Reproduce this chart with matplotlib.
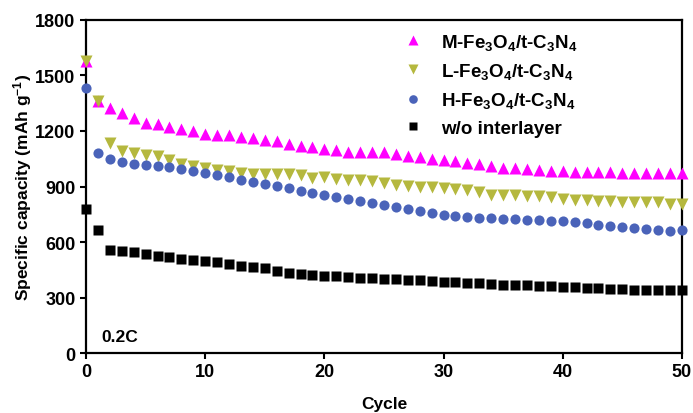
import matplotlib
matplotlib.use("Agg")
import matplotlib.pyplot as plt
import numpy as np

plt.rcParams['font.family'] = ['Liberation Sans', 'DejaVu Sans']
plt.rcParams['font.weight'] = 'bold'
plt.rcParams['mathtext.fontset'] = 'custom'
plt.rcParams['mathtext.rm'] = 'Liberation Sans:bold'
plt.rcParams['mathtext.bf'] = 'Liberation Sans:bold'
plt.rcParams['mathtext.default'] = 'bf'

cycles = list(range(51))

m_cap = [1580, 1360, 1324, 1295, 1268, 1245, 1236, 1222, 1211, 1198, 1184, 1178, 1177, 1166, 1160,
         1153, 1145, 1128, 1121, 1112, 1101, 1096, 1085, 1085, 1085, 1085, 1076, 1063, 1058, 1049,
         1045, 1036, 1029, 1021, 1012, 1002, 1002, 996, 989, 982, 985, 977, 977, 977, 977, 975,
         973, 974, 973, 973, 971]
l_cap = [1580, 1360, 1133, 1090, 1083, 1070, 1063, 1045, 1022, 1012, 1001, 989, 982, 973, 966,
         966, 968, 966, 960, 945, 951, 938, 937, 935, 930, 920, 908, 904, 899, 896, 890, 885, 879,
         872, 854, 854, 854, 850, 850, 841, 832, 827, 827, 823, 820, 814, 814, 814, 814, 805, 805]
h_cap = [1434, 1083, 1049, 1034, 1023, 1016, 1012, 1005, 996, 986, 975, 962, 949, 937, 926, 915,
         901, 890, 878, 867, 856, 845, 832, 822, 811, 802, 791, 778, 770, 758, 748, 739, 733, 730,
         728, 726, 723, 720, 717, 715, 712, 706, 701, 692, 685, 681, 676, 672, 667, 659, 663]
w_cap = [778, 665, 555, 551, 544, 537, 526, 517, 510, 504, 497, 490, 481, 472, 465, 458, 441, 434,
         429, 423, 416, 415, 411, 407, 404, 400, 398, 396, 393, 389, 385, 382, 380, 377, 371, 369,
         369, 368, 364, 360, 358, 355, 351, 350, 346, 344, 342, 342, 341, 341, 341]

labels = [r'M-Fe$_3$O$_4$/t-C$_3$N$_4$', r'L-Fe$_3$O$_4$/t-C$_3$N$_4$',
          r'H-Fe$_3$O$_4$/t-C$_3$N$_4$', 'w/o interlayer']

x_ticks = [0, 10, 20, 30, 40, 50]
y_ticks = [0, 300, 600, 900, 1200, 1500, 1800]

fig = plt.figure(figsize=(6.93, 4.14), dpi=100)
ax = fig.add_axes([0.1241, 0.1449, 0.8599, 0.8044])

ax.plot(cycles, m_cap, ls='none', marker='^', ms=8.5, color='#FF00FF', mec='none', label=labels[0], clip_on=False, zorder=3)
ax.plot(cycles, l_cap, ls='none', marker='v', ms=8.5, color='#B5B83E', mec='none', label=labels[1], clip_on=False, zorder=3)
ax.plot(cycles, h_cap, ls='none', marker='o', ms=7.3, color='#4A63B9', mec='none', label=labels[2], clip_on=False, zorder=3)
ax.plot(cycles, w_cap, ls='none', marker='s', ms=6.5, color='black', mec='none', label=labels[3], clip_on=False, zorder=3)

ax.set_xlim(0, 50)
ax.set_ylim(0, 1800)
ax.set_xticks(x_ticks)
ax.set_yticks(y_ticks)
ax.tick_params(axis='both', which='major', direction='out', length=4.5, width=1.5, labelsize=13, pad=3)
for lab in ax.get_xticklabels() + ax.get_yticklabels():
    lab.set_fontweight('bold')
for sp in ax.spines.values():
    sp.set_linewidth(1.6)

ax.set_xlabel('Cycle', fontsize=12.5, fontweight='bold', labelpad=11)
ax.set_ylabel(r'Specific capacity (mAh g$^{-1}$)', fontsize=12.5, fontweight='bold', labelpad=1)

ax.text(0.025, 0.05, '0.2C', transform=ax.transAxes, fontsize=12.5, fontweight='bold', va='center', ha='left')

leg = ax.legend(loc='upper left', bbox_to_anchor=(0.507, 1.01), frameon=False, fontsize=13.5,
                handlelength=1.0, handletextpad=1.0, labelspacing=0.5, markerscale=0.85, borderpad=0.3)
for t in leg.get_texts():
    t.set_fontweight('bold')

fig.savefig('out.png', dpi=100)
